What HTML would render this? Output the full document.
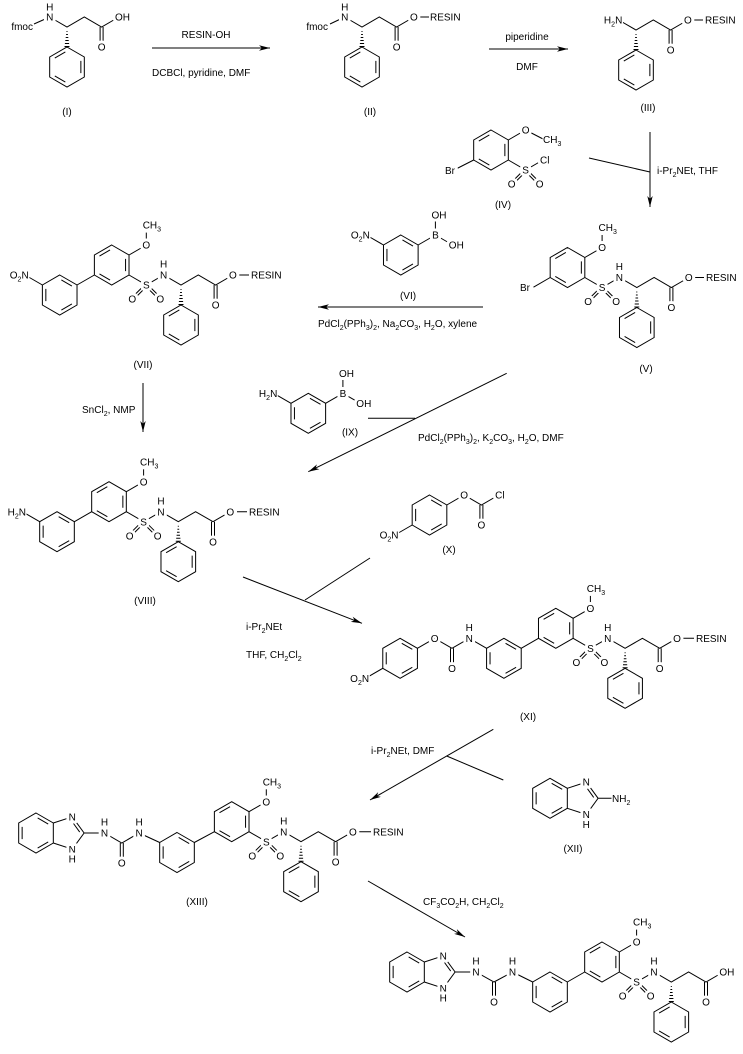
<!DOCTYPE html>
<html><head><meta charset="utf-8"><style>
html,body{margin:0;padding:0;background:#fff;width:743px;height:1054px;overflow:hidden}
svg{display:block}
text{font-family:"Liberation Sans",Arial,sans-serif;font-size:10px;fill:#000}
.a{paint-order:stroke;stroke:#fff;stroke-width:6px;stroke-linejoin:round}
.m{text-anchor:middle}
.e{text-anchor:end}
</style></head><body>
<svg width="743" height="1054" viewBox="0 0 743 1054" xmlns="http://www.w3.org/2000/svg">
<defs>
<path id="rA" fill="none" stroke="#000" stroke-width="1" d="M0,-20L17.32,-10L17.32,10L0,20L-17.32,10L-17.32,-10Z M-1.66,-15.04L-12.2,-8.96 M13.86,-6.08L13.86,6.08 M-12.2,8.96L-1.66,15.04"/>
<path id="rB" fill="none" stroke="#000" stroke-width="1" d="M0,-20L17.32,-10L17.32,10L0,20L-17.32,10L-17.32,-10Z M1.66,-15.04L12.2,-8.96 M-13.86,-6.08L-13.86,6.08 M12.2,8.96L1.66,15.04"/>
<path id="so2" fill="none" stroke="#000" stroke-width="1" d="M0.9,0.9L-13.1,14.9M-0.9,-0.9L-14.9,13.1M0.9,-0.9L14.9,13.1M-0.9,0.9L13.1,14.9"/>
<path id="hw" fill="none" stroke="#000" stroke-width="1" d="M-0.5,4.5h1M-0.9,7.5h1.8M-1.3,10.5h2.6M-1.7,13.5h3.4M-2.1,16.5h4.2M-2.5,19.5h5"/>
<marker id="ah" markerUnits="userSpaceOnUse" markerWidth="12" markerHeight="8" refX="11" refY="4" orient="auto" overflow="visible"><path d="M0,1.3 L11,4 L0,6.7 L3,4 Z" fill="#000" stroke="none"/></marker>
</defs>
<rect width="743" height="1054" fill="#fff"/>

<g fill="none" stroke="#000" stroke-width="1">
<!-- Compound I -->
<path d="M34,24L49.7,17 M49.7,17L67,27L84.3,17L101.6,27L118.9,17 M100.1,27V47 M103.1,27V47"/>
<use href="#hw" x="67" y="27"/><use href="#rA" x="67" y="67"/>
<path d="M152,48L270,48" marker-end="url(#ah)"/>
<!-- Compound II -->
<path d="M330,24L344.7,17 M344.7,17L362,27L379.3,17L396.6,27L413.9,17 M395.1,27V47 M398.1,27V47 M420,17H429"/>
<use href="#hw" x="362" y="27"/><use href="#rA" x="362" y="67"/>
<path d="M489,49L568,49" marker-end="url(#ah)"/>
<!-- Compound III -->
<path d="M618.7,20L636,30L653.3,20L670.6,30L687.9,20 M669.1,30V50 M672.1,30V50 M694,20H703"/>
<use href="#hw" x="636" y="30"/><use href="#rA" x="636" y="70"/>
<path d="M650,132L650,207" marker-end="url(#ah)"/>
<path d="M589,158L650,172"/>
<!-- Compound IV -->
<use href="#rA" x="491" y="150"/>
<path d="M508.3,140L525.6,130L544,139.5 M508.3,160L525.6,170L542.9,160 M473.7,160L457,168.5"/>
<use href="#so2" x="525.6" y="170"/>
<!-- Compound V -->
<use href="#rA" x="567.5" y="267.5"/>
<path d="M584.8,257.5L602.1,247.5L602.1,227.5 M584.8,277.5L602.1,287.5L619.4,277.5L636.8,287.5L654.1,277.5L671.4,287.5L688.8,277.5 M669.9,287.5V307.5 M672.9,287.5V307.5 M695,277.5H704 M550.2,277.5L533.5,287.2"/>
<use href="#so2" x="602.1" y="287.5"/><use href="#hw" x="636.8" y="287.5"/><use href="#rA" x="636.8" y="327.5"/>
<!-- Compound VI -->
<use href="#rB" x="400.8" y="255"/>
<path d="M383.5,245L366.2,235 M418.1,245L435.4,235L435.4,215 M435.4,235L452.7,245"/>
<path d="M483,307L318,307" marker-end="url(#ah)"/>
<!-- Compound VII -->
<use href="#rA" x="111.7" y="265"/>
<path d="M129,255L146.3,245L146.3,225 M129,275L146.3,285L163.6,275L181,285L198.3,275L215.6,285L232.9,275 M214.1,285V305 M217.1,285V305 M239,275H249 M94.4,275L77,285 M42.4,285L25.1,275"/>
<use href="#so2" x="146.3" y="285"/><use href="#hw" x="181" y="285"/><use href="#rA" x="181" y="325"/><use href="#rB" x="59.7" y="295"/>
<path d="M143,383L143,432" marker-end="url(#ah)"/>
<!-- Compound VIII -->
<use href="#rA" x="109" y="501.7"/>
<path d="M126.3,491.7L143.6,481.7L143.6,461.7 M126.3,511.7L143.6,521.7L161,511.7L178.3,521.7L195.6,511.7L213,521.7L230.3,511.7 M211.5,521.7V541.7 M214.5,521.7V541.7 M237,511.7H247 M91.7,511.7L74.4,521.7 M39.7,521.7L22.4,511.7"/>
<use href="#so2" x="143.6" y="521.7"/><use href="#hw" x="178.3" y="521.7"/><use href="#rA" x="178.3" y="561.7"/><use href="#rB" x="57" y="531.7"/>
<!-- Compound IX -->
<use href="#rB" x="308.3" y="413.3"/>
<path d="M291,403.3L273.7,393.3 M325.6,403.3L342.9,393.3L342.9,373.3 M342.9,393.3L360.2,403.3"/>
<path d="M506.7,373.3L308.3,471.7" marker-end="url(#ah)"/>
<path d="M368,418.3H415"/>
<!-- Compound X -->
<use href="#rB" x="429.5" y="515"/>
<path d="M446.8,505L464.1,495L481.4,505L498.7,495 M479.9,505V525 M482.9,505V525 M412.2,525L394.9,535"/>
<path d="M243,577L362,623.3" marker-end="url(#ah)"/>
<path d="M370,558L305,600"/>
<!-- Compound XI -->
<use href="#rA" x="555.8" y="628.3"/>
<path d="M573.1,618.3L590.4,608.3L590.4,588.3 M573.1,638.3L590.4,648.3L607.8,638.3L625.1,648.3L642.4,638.3L659.7,648.3L677,638.3 M658.2,648.3V668.3 M661.2,648.3V668.3 M683,638.3H694 M538.5,638.3L521.2,648.3 M486.6,648.3L469.3,638.3L452,648.3L434.7,638.3L417.4,648.3 M450.5,648.3V668.3 M453.5,648.3V668.3 M382.8,668.3L365.5,678.3"/>
<use href="#so2" x="590.4" y="648.3"/><use href="#hw" x="625.1" y="648.3"/><use href="#rA" x="625.1" y="688.3"/><use href="#rB" x="503.9" y="658.3"/><use href="#rB" x="400.1" y="658.3"/>
<path d="M493.3,729.3L370,800" marker-end="url(#ah)"/>
<path d="M446.7,756L503.3,780"/>
<!-- Compound XII -->
<use href="#rB" x="550" y="798.3"/>
<path d="M567.3,788.3L586.3,782.1L598.1,798.3L586.3,814.5L567.3,808.3 M587.5,788.8L593.7,797.4 M598.1,798.3L615.6,798.3"/>
<!-- Compound XIII -->
<use href="#rB" x="36" y="833"/>
<path d="M53.3,823L72.3,816.8L84.1,833L72.3,849.2L53.3,843 M73.5,823.5L79.7,832.1 M84.1,833L104.5,833L121.8,843L139.1,833L159.7,842.5 M120.3,843V863 M123.3,843V863 M194.3,842.5L214.4,831.7"/>
<use href="#rB" x="177" y="852.5"/>
<use href="#rA" x="231.7" y="821.7"/>
<path d="M249,811.7L266.3,801.7L266.3,781.7 M249,831.7L266.3,841.7L283.7,831.7L301,841.7L318.3,831.7L335.6,841.7L352.9,831.7 M334.1,841.7V861.7 M337.1,841.7V861.7 M358,831.7H371"/>
<use href="#so2" x="266.3" y="841.7"/><use href="#hw" x="301" y="841.7"/><use href="#rA" x="301" y="881.7"/>
<path d="M368,881L465,937" marker-end="url(#ah)"/>
<!-- Final compound -->
<use href="#rB" x="407" y="972"/>
<path d="M424.3,962L443.3,955.8L455.1,972L443.3,988.2L424.3,982 M444.5,962.5L450.7,971.1 M455.1,972L476,972L494,982L512.5,972L532.7,982 M492.5,982V1002 M495.5,982V1002 M567.3,982L584.7,972"/>
<use href="#rB" x="550" y="992"/>
<use href="#rA" x="602" y="962"/>
<path d="M619.3,952L636.6,942L636.6,922 M619.3,972L636.6,982L654,972L671.3,982L688.6,972L706,982L723.3,972 M704.5,982V1002 M707.5,982V1002"/>
<use href="#so2" x="636.6" y="982"/><use href="#hw" x="671.3" y="982"/><use href="#rA" x="671.3" y="1022"/>
</g>

<!-- white backgrounds for multi-part labels -->
<g fill="#fff" stroke="none">
<rect x="603" y="15.6" width="20" height="11"/>
<rect x="542.5" y="135" width="19.5" height="12"/>
<rect x="598" y="223" width="19.5" height="12"/>
<rect x="350" y="230.6" width="20.5" height="11"/>
<rect x="142.2" y="220.6" width="19.5" height="12"/>
<rect x="8.9" y="270.6" width="20.5" height="11"/>
<rect x="139.5" y="457.3" width="19.5" height="12"/>
<rect x="6.5" y="507.3" width="20" height="11"/>
<rect x="257.8" y="388.9" width="20" height="11"/>
<rect x="378.7" y="530.6" width="20.5" height="11"/>
<rect x="586.3" y="583.9" width="19.5" height="12"/>
<rect x="349.3" y="673.9" width="20.5" height="11"/>
<rect x="611.5" y="793.9" width="19.5" height="12"/>
<rect x="262.2" y="777.3" width="19.5" height="12"/>
<rect x="632.5" y="917.6" width="19.5" height="12"/>
</g>

<!-- ===== Atom labels ===== -->
<g>
<!-- I -->
<text x="33" y="30" class="e">fmoc</text>
<text class="a m" x="49.7" y="20.6">N</text><text class="a m" x="49.7" y="10.6">H</text>
<text class="a m" x="101.6" y="50.6">O</text>
<text class="a" x="115" y="20.6">OH</text>
<!-- II -->
<text x="328" y="30" class="e">fmoc</text>
<text class="a m" x="344.7" y="20.6">N</text><text class="a m" x="344.7" y="10.6">H</text>
<text class="a m" x="396.6" y="50.6">O</text>
<text class="a m" x="413.9" y="20.6">O</text>
<text x="430" y="20.6">RESIN</text>
<!-- III -->
<text class="e" x="622.3" y="23.6">H<tspan dy="3" font-size="7">2</tspan><tspan dy="-3">N</tspan></text>
<text class="a m" x="670.6" y="53.6">O</text>
<text class="a m" x="687.9" y="23.6">O</text>
<text x="705" y="23.6">RESIN</text>
<!-- IV -->
<text class="a m" x="525.6" y="133.6">O</text>
<text x="543" y="143.1">CH<tspan dy="3" font-size="7">3</tspan></text>
<text class="a m" x="525.6" y="173.6">S</text>
<text class="a" x="540" y="163.6">Cl</text>
<text class="a m" x="511.6" y="187.6">O</text>
<text class="a m" x="539.6" y="187.6">O</text>
<text class="a" x="445" y="174">Br</text>
<!-- V -->
<text class="a m" x="602.1" y="251.1">O</text>
<text x="598.5" y="231.1">CH<tspan dy="3" font-size="7">3</tspan></text>
<text class="a m" x="602.1" y="291.1">S</text>
<text class="a m" x="588.1" y="305.1">O</text>
<text class="a m" x="616.1" y="305.1">O</text>
<text class="a m" x="619.4" y="281.1">N</text><text class="a m" x="619.4" y="270.1">H</text>
<text class="a m" x="671.4" y="311.1">O</text>
<text class="a m" x="688.8" y="281.1">O</text>
<text x="706" y="281.1">RESIN</text>
<text class="a" x="520" y="291.1">Br</text>
<!-- VI -->
<text class="e" x="369.8" y="238.6">O<tspan dy="3" font-size="7">2</tspan><tspan dy="-3">N</tspan></text>
<text class="a m" x="435.4" y="238.6">B</text>
<text class="a" x="431.5" y="218.6">OH</text>
<text class="a" x="448.8" y="248.6">OH</text>
<!-- VII -->
<text class="a m" x="146.3" y="248.6">O</text>
<text x="142.7" y="228.6">CH<tspan dy="3" font-size="7">3</tspan></text>
<text class="a m" x="146.3" y="288.6">S</text>
<text class="a m" x="132.3" y="302.6">O</text>
<text class="a m" x="160.3" y="302.6">O</text>
<text class="a m" x="163.6" y="278.6">N</text><text class="a m" x="163.6" y="267.6">H</text>
<text class="a m" x="215.6" y="308.6">O</text>
<text class="a m" x="232.9" y="278.6">O</text>
<text x="251" y="278.6">RESIN</text>
<text class="e" x="28.7" y="278.6">O<tspan dy="3" font-size="7">2</tspan><tspan dy="-3">N</tspan></text>
<!-- VIII -->
<text class="a m" x="143.6" y="485.3">O</text>
<text x="140" y="465.3">CH<tspan dy="3" font-size="7">3</tspan></text>
<text class="a m" x="143.6" y="525.3">S</text>
<text class="a m" x="129.6" y="539.3">O</text>
<text class="a m" x="157.6" y="539.3">O</text>
<text class="a m" x="161" y="515.3">N</text><text class="a m" x="161" y="504.3">H</text>
<text class="a m" x="213" y="545.3">O</text>
<text class="a m" x="230.3" y="515.3">O</text>
<text x="249" y="515.3">RESIN</text>
<text class="e" x="26" y="515.3">H<tspan dy="3" font-size="7">2</tspan><tspan dy="-3">N</tspan></text>
<!-- IX -->
<text class="e" x="277.3" y="396.9">H<tspan dy="3" font-size="7">2</tspan><tspan dy="-3">N</tspan></text>
<text class="a m" x="342.9" y="396.9">B</text>
<text class="a" x="339" y="376.9">OH</text>
<text class="a" x="356.3" y="406.9">OH</text>
<!-- X -->
<text class="a m" x="464.1" y="498.6">O</text>
<text class="a m" x="481.4" y="528.6">O</text>
<text class="a" x="495.1" y="498.6">Cl</text>
<text class="e" x="398.5" y="538.6">O<tspan dy="3" font-size="7">2</tspan><tspan dy="-3">N</tspan></text>
<!-- XI -->
<text class="a m" x="590.4" y="611.9">O</text>
<text x="586.8" y="591.9">CH<tspan dy="3" font-size="7">3</tspan></text>
<text class="a m" x="590.4" y="651.9">S</text>
<text class="a m" x="576.4" y="665.9">O</text>
<text class="a m" x="604.4" y="665.9">O</text>
<text class="a m" x="607.8" y="641.9">N</text><text class="a m" x="607.8" y="630.9">H</text>
<text class="a m" x="659.7" y="671.9">O</text>
<text class="a m" x="677" y="641.9">O</text>
<text x="696" y="641.9">RESIN</text>
<text class="a m" x="469.3" y="641.9">N</text><text class="a m" x="469.3" y="630.9">H</text>
<text class="a m" x="452" y="671.9">O</text>
<text class="a m" x="434.7" y="641.9">O</text>
<text class="e" x="369.1" y="681.9">O<tspan dy="3" font-size="7">2</tspan><tspan dy="-3">N</tspan></text>
<!-- XII -->
<text class="a m" x="586.3" y="785.7">N</text>
<text class="a m" x="586.3" y="818.1">N</text>
<text class="a m" x="586.3" y="828.1">H</text>
<text x="612" y="801.9">NH<tspan dy="3" font-size="7">2</tspan></text>
<!-- XIII -->
<text class="a m" x="72.3" y="820.4">N</text>
<text class="a m" x="72.3" y="852.8">N</text>
<text class="a m" x="72.3" y="862.6">H</text>
<text class="a m" x="104.5" y="836.6">N</text><text class="a m" x="104.5" y="825.6">H</text>
<text class="a m" x="121.8" y="866.6">O</text>
<text class="a m" x="139.1" y="836.6">N</text><text class="a m" x="139.1" y="825.6">H</text>
<text class="a m" x="266.3" y="805.3">O</text>
<text x="262.7" y="785.3">CH<tspan dy="3" font-size="7">3</tspan></text>
<text class="a m" x="266.3" y="845.3">S</text>
<text class="a m" x="252.3" y="859.3">O</text>
<text class="a m" x="280.3" y="859.3">O</text>
<text class="a m" x="283.7" y="835.3">N</text><text class="a m" x="283.7" y="824.3">H</text>
<text class="a m" x="335.6" y="865.3">O</text>
<text class="a m" x="352.9" y="835.3">O</text>
<text x="373" y="835.3">RESIN</text>
<!-- Final -->
<text class="a m" x="443.3" y="959.4">N</text>
<text class="a m" x="443.3" y="991.8">N</text>
<text class="a m" x="443.3" y="1001.6">H</text>
<text class="a m" x="476" y="975.6">N</text><text class="a m" x="476" y="964.6">H</text>
<text class="a m" x="494" y="1005.6">O</text>
<text class="a m" x="512.5" y="975.6">N</text><text class="a m" x="512.5" y="964.6">H</text>
<text class="a m" x="636.6" y="945.6">O</text>
<text x="633" y="925.6">CH<tspan dy="3" font-size="7">3</tspan></text>
<text class="a m" x="636.6" y="985.6">S</text>
<text class="a m" x="622.6" y="999.6">O</text>
<text class="a m" x="650.6" y="999.6">O</text>
<text class="a m" x="654" y="975.6">N</text><text class="a m" x="654" y="964.6">H</text>
<text class="a m" x="706" y="1005.6">O</text>
<text class="a" x="719.4" y="975.6">OH</text>
</g>

<!-- ===== Compound numbers ===== -->
<g>
<text class="m" x="67" y="115">(I)</text>
<text class="m" x="370" y="115">(II)</text>
<text class="m" x="648" y="111">(III)</text>
<text class="m" x="503" y="208">(IV)</text>
<text class="m" x="646" y="372">(V)</text>
<text class="m" x="408" y="299">(VI)</text>
<text class="m" x="143" y="368">(VII)</text>
<text class="m" x="145" y="604">(VIII)</text>
<text class="m" x="350" y="435.5">(IX)</text>
<text class="m" x="449" y="553">(X)</text>
<text class="m" x="528" y="720">(XI)</text>
<text class="m" x="573" y="852">(XII)</text>
<text class="m" x="197" y="905">(XIII)</text>
</g>

<!-- ===== Reagents ===== -->
<g>
<text class="m" x="206" y="38">RESIN-OH</text>
<text x="152" y="76">DCBCl, pyridine, DMF</text>
<text class="m" x="527" y="40">piperidine</text>
<text class="m" x="527" y="70">DMF</text>
<text x="657" y="174">i-Pr<tspan dy="3" font-size="7">2</tspan><tspan dy="-3">NEt, THF</tspan></text>
<text x="318" y="327">PdCl<tspan dy="3" font-size="7">2</tspan><tspan dy="-3">(PPh</tspan><tspan dy="3" font-size="7">3</tspan><tspan dy="-3">)</tspan><tspan dy="3" font-size="7">2</tspan><tspan dy="-3">, Na</tspan><tspan dy="3" font-size="7">2</tspan><tspan dy="-3">CO</tspan><tspan dy="3" font-size="7">3</tspan><tspan dy="-3">, H</tspan><tspan dy="3" font-size="7">2</tspan><tspan dy="-3">O, xylene</tspan></text>
<text x="82" y="413">SnCl<tspan dy="3" font-size="7">2</tspan><tspan dy="-3">, NMP</tspan></text>
<text x="418" y="441">PdCl<tspan dy="3" font-size="7">2</tspan><tspan dy="-3">(PPh</tspan><tspan dy="3" font-size="7">3</tspan><tspan dy="-3">)</tspan><tspan dy="3" font-size="7">2</tspan><tspan dy="-3">, K</tspan><tspan dy="3" font-size="7">2</tspan><tspan dy="-3">CO</tspan><tspan dy="3" font-size="7">3</tspan><tspan dy="-3">, H</tspan><tspan dy="3" font-size="7">2</tspan><tspan dy="-3">O, DMF</tspan></text>
<text x="246" y="630">i-Pr<tspan dy="3" font-size="7">2</tspan><tspan dy="-3">NEt</tspan></text>
<text x="246" y="658">THF, CH<tspan dy="3" font-size="7">2</tspan><tspan dy="-3">Cl</tspan><tspan dy="3" font-size="7">2</tspan></text>
<text x="371" y="754">i-Pr<tspan dy="3" font-size="7">2</tspan><tspan dy="-3">NEt, DMF</tspan></text>
<text x="423" y="905">CF<tspan dy="3" font-size="7">3</tspan><tspan dy="-3">CO</tspan><tspan dy="3" font-size="7">2</tspan><tspan dy="-3">H, CH</tspan><tspan dy="3" font-size="7">2</tspan><tspan dy="-3">Cl</tspan><tspan dy="3" font-size="7">2</tspan></text>
</g>
</svg>
</body></html>
